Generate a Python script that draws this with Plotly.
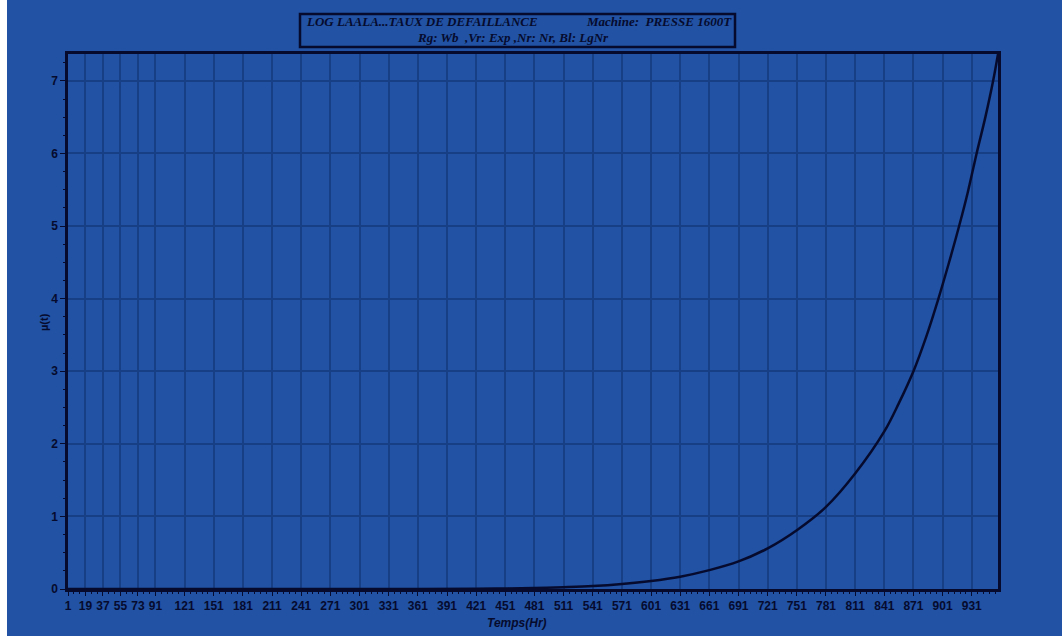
import plotly.graph_objects as go

# Failure rate curve (hours vs mu(t))
temps_hr = [1, 91, 181, 271, 361, 421, 451, 481, 511, 541, 571, 601, 631, 661,
            691, 721, 751, 781, 811, 841, 856, 871, 884, 896, 907, 918, 927,
            936, 945, 953, 958]
mu_t = [0.0, 0.0, 0.0001, 0.0004, 0.001, 0.004, 0.008, 0.014, 0.025, 0.04,
        0.068, 0.11, 0.17, 0.26, 0.38, 0.56, 0.81, 1.13, 1.59, 2.17, 2.56,
        3.0, 3.47, 3.97, 4.47, 5.0, 5.47, 6.0, 6.5, 7.0, 7.37]

x_ticks = [1, 19, 37, 55, 73, 91, 121, 151, 181, 211, 241, 271, 301, 331, 361,
           391, 421, 451, 481, 511, 541, 571, 601, 631, 661, 691, 721, 751,
           781, 811, 841, 871, 901, 931]
y_ticks = [0, 1, 2, 3, 4, 5, 6, 7]

title_line1_left = "LOG LAALA...TAUX DE DEFAILLANCE"
title_line1_right = "Machine:  PRESSE 1600T"
title_line2 = "Rg: Wb  ,Vr: Exp ,Nr: Nr, Bl: LgNr"

BLUE = "#2152A3"
GRID = "#163F86"
INK = "#060B2E"

W, H = 1062, 636
L, R, T, B = 68, 64, 54, 47
PW, PH = W - L - R, H - T - B


def px_x(px):
    return (px - L) / PW


def px_y(py):
    return (H - B - py) / PH


fig = go.Figure()
fig.add_trace(go.Scatter(
    x=temps_hr, y=mu_t, mode="lines",
    line=dict(color=INK, width=2.5, shape="spline", smoothing=1.0),
    hoverinfo="skip", showlegend=False,
))

tick_font = dict(family="Liberation Sans, Arial, sans-serif", size=12,
                 color=INK, weight="bold")

fig.update_xaxes(
    range=[1, 958], tickmode="array", tickvals=x_ticks,
    ticktext=[str(v) for v in x_ticks], tickangle=0,
    showgrid=True, gridcolor=GRID, gridwidth=1.5,
    zeroline=False, showline=True, linecolor=INK, linewidth=2.5, mirror=True,
    ticks="outside", ticklen=4, tickcolor=INK, tickwidth=1,
    minor=dict(tick0=1, dtick=6, ticks="outside", ticklen=2, tickcolor=INK,
               showgrid=False),
    tickfont=tick_font,
)
fig.update_yaxes(
    range=[0, 7.37], tickmode="array", tickvals=y_ticks,
    showgrid=True, gridcolor=GRID, gridwidth=1.5,
    zeroline=False, showline=True, linecolor=INK, linewidth=2.5, mirror=True,
    ticks="outside", ticklen=5, tickcolor=INK, tickwidth=1,
    minor=dict(dtick=0.25, ticks="outside", ticklen=2, tickcolor=INK,
               showgrid=False),
    tickfont=tick_font,
)

shapes = [
    # white strip at the left edge of the page
    dict(type="rect", xref="paper", yref="paper", layer="below",
         x0=px_x(0), x1=px_x(7), y0=px_y(H + 5), y1=px_y(-5),
         fillcolor="white", line=dict(width=0)),
    # title box
    dict(type="rect", xref="paper", yref="paper",
         x0=px_x(300), x1=px_x(735), y0=px_y(47), y1=px_y(14),
         fillcolor=BLUE, line=dict(color=INK, width=2.5)),
]

serif = dict(family="Liberation Serif, Times New Roman, serif", size=13,
             color=INK, weight="bold", style="italic")
annotations = [
    dict(text=title_line1_left, xref="paper", yref="paper",
         x=px_x(304), y=px_y(22), xanchor="left", yanchor="middle",
         showarrow=False, font=serif),
    dict(text=title_line1_right, xref="paper", yref="paper",
         x=px_x(734), y=px_y(22), xanchor="right", yanchor="middle",
         showarrow=False, font=serif),
    dict(text=title_line2, xref="paper", yref="paper",
         x=px_x(513), y=px_y(37), xanchor="center", yanchor="middle",
         showarrow=False, font=serif),
    dict(text="µ(t)", xref="paper", yref="paper",
         x=px_x(44), y=px_y(322), xanchor="center", yanchor="middle",
         textangle=-90, showarrow=False,
         font=dict(family="Liberation Sans, Arial, sans-serif", size=11,
                   color=INK, weight="bold")),
    dict(text="Temps(Hr)", xref="paper", yref="paper",
         x=px_x(517), y=px_y(623), xanchor="center", yanchor="middle",
         showarrow=False,
         font=dict(family="Liberation Sans, Arial, sans-serif", size=12,
                   color=INK, weight="bold", style="italic")),
]

fig.update_layout(
    width=W, height=H,
    margin=dict(l=L, r=R, t=T, b=B, pad=0),
    paper_bgcolor=BLUE, plot_bgcolor=BLUE,
    shapes=shapes, annotations=annotations,
    showlegend=False,
)

fig.write_html("out.html", config={"displayModeBar": False})
